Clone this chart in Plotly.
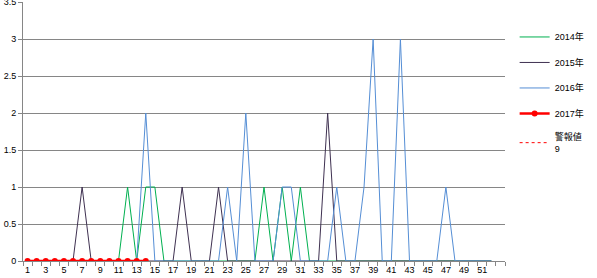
import plotly.graph_objects as go

weeks = [1, 2, 3, 4, 5, 6, 7, 8, 9, 10, 11, 12, 13, 14, 15, 16, 17, 18, 19, 20,
         21, 22, 23, 24, 25, 26, 27, 28, 29, 30, 31, 32, 33, 34, 35, 36, 37, 38, 39, 40,
         41, 42, 43, 44, 45, 46, 47, 48, 49, 50, 51, 52]
y2014 = [0, 0, 0, 0, 0, 0, 0, 0, 0, 0, 0, 1, 0, 1, 1, 0, 0, 0, 0, 0,
         0, 0, 0, 0, 0, 0, 1, 0, 1, 0, 1, 0, 0, 0, 0, 0, 0, 0, 0, 0,
         0, 0, 0, 0, 0, 0, 0, 0, 0, 0, 0, 0]
y2015 = [0, 0, 0, 0, 0, 0, 1, 0, 0, 0, 0, 0, 0, 0, 0, 0, 0, 1, 0, 0,
         0, 1, 0, 0, 0, 0, 0, 0, 0, 0, 0, 0, 0, 2, 0, 0, 0, 0, 0, 0,
         0, 0, 0, 0, 0, 0, 0, 0, 0, 0, 0, 0]
y2016 = [0, 0, 0, 0, 0, 0, 0, 0, 0, 0, 0, 0, 0, 2, 0, 0, 0, 0, 0, 0,
         0, 0, 1, 0, 2, 0, 0, 0, 1, 1, 0, 0, 0, 0, 1, 0, 0, 1, 3, 0,
         0, 3, 0, 0, 0, 0, 1, 0, 0, 0, 0, 0]
weeks2017 = [1, 2, 3, 4, 5, 6, 7, 8, 9, 10, 11, 12, 13, 14]
y2017 = [0, 0, 0, 0, 0, 0, 0, 0, 0, 0, 0, 0, 0, 0]
alarm = [9] * len(weeks)
x_tick_labels = ["1", "3", "5", "7", "9", "11", "13", "15", "17", "19", "21", "23", "25",
                 "27", "29", "31", "33", "35", "37", "39", "41", "43", "45", "47", "49", "51"]
x_tick_vals = [int(s) for s in x_tick_labels]
y_tick_labels = ["0", "0.5", "1", "1.5", "2", "2.5", "3", "3.5"]
y_tick_vals = [float(s) for s in y_tick_labels]

font_family = "Liberation Sans, Noto Sans CJK JP, sans-serif"

fig = go.Figure()
fig.add_trace(go.Scatter(x=weeks, y=y2014, mode="lines", name="2014年",
                         line=dict(color="#00B050", width=1), legendgroup="a"))
fig.add_trace(go.Scatter(x=weeks, y=y2015, mode="lines", name="2015年",
                         line=dict(color="#3F3151", width=1), legendgroup="b"))
fig.add_trace(go.Scatter(x=weeks, y=y2016, mode="lines", name="2016年",
                         line=dict(color="#558ED5", width=1), legendgroup="c"))
fig.add_trace(go.Scatter(x=weeks2017, y=y2017, mode="lines+markers", name="2017年",
                         line=dict(color="#FF0000", width=2.5),
                         marker=dict(color="#FF0000", size=6), legendgroup="d"))
fig.add_trace(go.Scatter(x=weeks, y=alarm, mode="lines", name="警報値<br>9",
                         line=dict(color="#FF0000", width=1, dash="dot"), legendgroup="e"))

fig.update_layout(
    width=597, height=278,
    margin=dict(l=23, r=92, t=2, b=17, autoexpand=False),
    paper_bgcolor="white", plot_bgcolor="white",
    font=dict(family=font_family, size=9, color="#000000"),
    showlegend=True,
    legend=dict(x=1.02, y=0.921, xanchor="left", yanchor="top",
                font=dict(size=9), tracegroupgap=6.5, itemwidth=30,
                bgcolor="rgba(0,0,0,0)"),
)
fig.update_xaxes(
    range=[0.5, 53.5], tickmode="array", tickvals=x_tick_vals, ticktext=x_tick_labels,
    ticks="", showgrid=False, showline=True, linecolor="#868686", linewidth=1,
    zeroline=False, tickfont=dict(size=9),
    minor=dict(tick0=0.5, dtick=1, ticks="outside", ticklen=4, tickcolor="#868686",
               showgrid=False),
)
fig.update_yaxes(
    range=[0, 3.5], tickmode="array", tickvals=y_tick_vals, ticktext=y_tick_labels,
    ticklabeloverflow="allow",
    showgrid=True, gridcolor="#868686",
    gridwidth=1, showline=True, linecolor="#868686", linewidth=1, zeroline=False,
    ticks="outside", ticklen=4, tickcolor="#868686", tickfont=dict(size=9),
)

fig.write_html("out.html")
